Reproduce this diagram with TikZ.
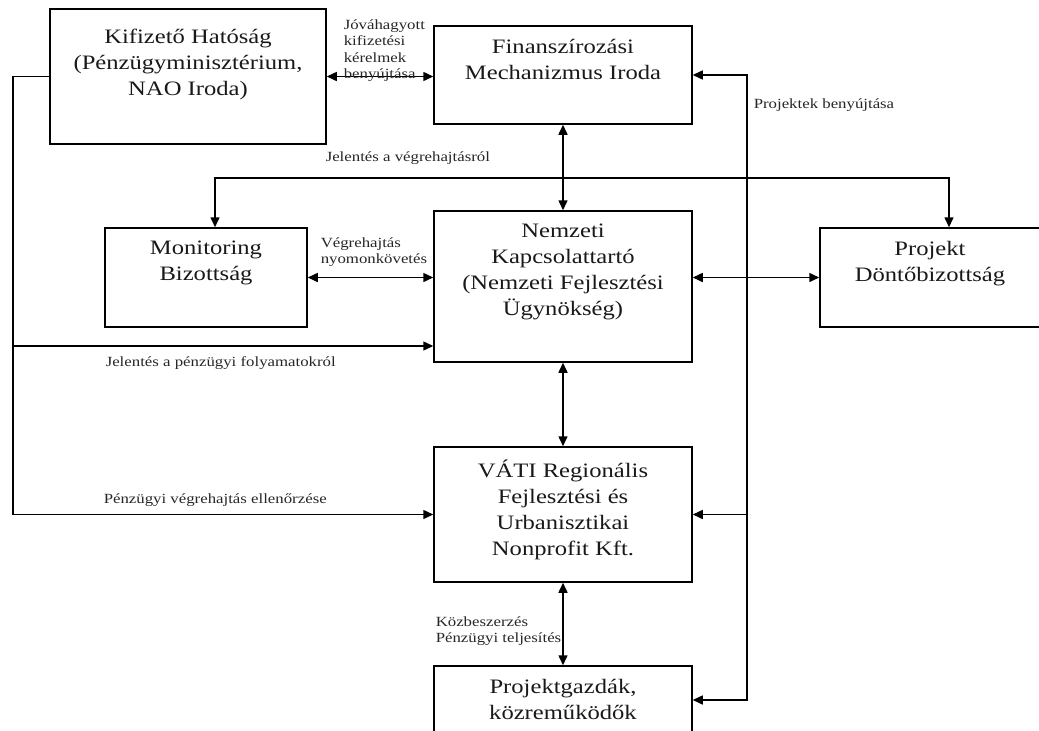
\documentclass[tikz,border=0pt]{standalone}
\usepackage{fontspec}
\setmainfont{Liberation Serif}[FakeStretch=1.2]
\usetikzlibrary{arrows.meta}

\begin{document}
\begin{tikzpicture}[x=1pt, y=-1pt, line width=1.5pt, >={Triangle[length=10pt,width=9pt]},
  box/.style = {draw, minimum width=258pt, minimum height=#1},
  head/.style = {anchor=north, yshift=-10pt, align=center, text=black!90, font=\fontsize{20.5}{26}\selectfont},
  note/.style = {inner sep=0pt, align=left, text=black!85, font=\fontsize{14}{16.5}\selectfont}]
\clip (0,0) rectangle (1039,731);
\node[box=135pt, minimum width=276pt, label={[head, yshift=-7pt]north:{Kifizető Hatóság\\(Pénzügyminisztérium,\\NAO Iroda)}}] (kh) at (188,76.5) {};
\node[box=98pt, label={[head]north:{Finanszírozási\\Mechanizmus Iroda}}] (fin) at (563,75) {};
\node[box=99pt, minimum width=202pt, label={[head]north:{Monitoring\\Bizottság}}] (mon) at (206,277.5) {};
\node[box=151pt, label={[head]north:{Nemzeti\\Kapcsolattartó\\(Nemzeti Fejlesztési\\Ügynökség)}}] (nem) at (563,286.5) {};
\node[box=99pt, minimum width=220pt, label={[head]north:{Projekt\\Döntőbizottság}}] (pdb) at (930,277.5) {};
\node[box=135pt, label={[head]north:{VÁTI Regionális\\Fejlesztési és\\Urbanisztikai\\Nonprofit Kft.}}] (vati) at (563,514.5) {};
\node[box=110pt, label={[head]north:{Projektgazdák,\\közreműködők}}] (pg) at (563,721) {};

\coordinate (lx) at (13,0);
\coordinate (rx) at (747,0);
\coordinate (jv) at (563,178);
\coordinate (fp) at (13,346);
\coordinate (pgi) at ([yshift=21pt]pg.east);

\draw[<->] (kh.east) -- (kh.east -| fin.west);
\draw[->] (kh.west) -- (kh.west -| lx) |- (vati.west);
\draw[->] (fp) -- (fp -| nem.west);
\draw[<->] (fin.south) -- (nem.north);
\draw[->] (jv) -| ([xshift=9pt]mon.north);
\draw[->] (jv) -| ([xshift=19pt]pdb.north);
\draw[<->] (mon.east) -- (mon.east -| nem.west);
\draw[<->] (nem.east |- pdb.west) -- (pdb.west);
\draw[<->] (nem.south) -- (vati.north);
\draw[<->] (vati.south) -- (pg.north);
\draw[<->] (fin.east) -- (fin.east -| rx) -- (rx |- pgi) -- (pgi);
\draw[->] (vati.east -| rx) -- (vati.east);

\node[note, anchor=north west] (jova) at (343,19) {Jóváhagyott\\kifizetési\\kérelmek\\benyújtása};
\node[note, anchor=base west] (jvegr) at (325,161) {Jelentés a végrehajtásról};
\node[note, anchor=base west] (proj) at (753,108) {Projektek benyújtása};
\node[note, anchor=north west] (nyom) at (320,237) {Végrehajtás\\nyomonkövetés};
\node[note, anchor=base west] (jpenz) at (105,366) {Jelentés a pénzügyi folyamatokról};
\node[note, anchor=base west] (penz) at (103,503) {Pénzügyi végrehajtás ellenőrzése};
\node[note, anchor=north west] (kozb) at (435,616) {Közbeszerzés\\Pénzügyi teljesítés};
\end{tikzpicture}
\end{document}
